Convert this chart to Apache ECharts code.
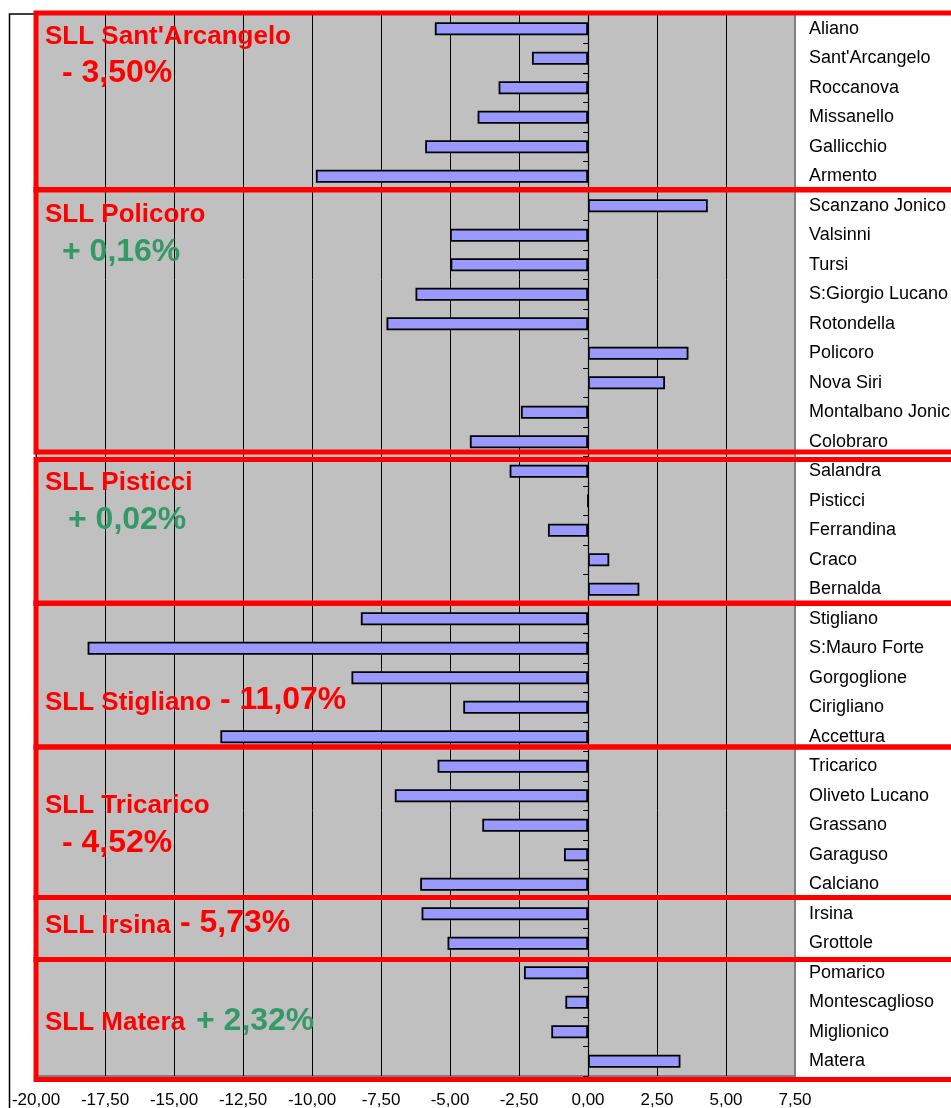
<!DOCTYPE html>
<html>
<head>
<meta charset="utf-8">
<title>Variazione popolazione per comune - SLL</title>
<script src="https://cdn.jsdelivr.net/npm/echarts@6/dist/echarts.min.js"></script>
<style>
  html, body { margin: 0; padding: 0; background: #ffffff; }
  #chart { width: 951px; height: 1108px; }
</style>
</head>
<body>
<div id="chart"></div>
<script>
// Comuni, from top to bottom, grouped by Sistema Locale del Lavoro
const comuni = [
  'Aliano', "Sant'Arcangelo", 'Roccanova', 'Missanello', 'Gallicchio', 'Armento',
  'Scanzano Jonico', 'Valsinni', 'Tursi', 'S:Giorgio Lucano', 'Rotondella', 'Policoro',
  'Nova Siri', 'Montalbano Jonico', 'Colobraro',
  'Salandra', 'Pisticci', 'Ferrandina', 'Craco', 'Bernalda',
  'Stigliano', 'S:Mauro Forte', 'Gorgoglione', 'Cirigliano', 'Accettura',
  'Tricarico', 'Oliveto Lucano', 'Grassano', 'Garaguso', 'Calciano',
  'Irsina', 'Grottole',
  'Pomarico', 'Montescaglioso', 'Miglionico', 'Matera'
];

// Variazione percentuale per comune
const variazione = [
  -5.55, -2.03, -3.24, -4.00, -5.90, -9.86,
  4.34, -5.00, -4.98, -6.25, -7.30, 3.64,
  2.79, -2.43, -4.28,
  -2.84, 0.00, -1.45, 0.77, 1.86,
  -8.23, -18.13, -8.57, -4.52, -13.32,
  -5.45, -7.00, -3.83, -0.87, -6.08,
  -6.03, -5.09,
  -2.32, -0.82, -1.33, 3.35
];

// Sistemi Locali del Lavoro: nome, variazione complessiva, numero di comuni
const sllNomi = ["SLL Sant'Arcangelo", 'SLL Policoro', 'SLL Pisticci', 'SLL Stigliano',
                 'SLL Tricarico', 'SLL Irsina', 'SLL Matera'];
const sllVariazione = ['- 3,50%', '+ 0,16%', '+ 0,02%', '- 11,07%', '- 4,52%', '- 5,73%', '+ 2,32%'];
const sllComuni = [6, 9, 5, 5, 5, 2, 4];

// Asse dei valori
const xMin = -20;
const xMax = 7.5;
const xStep = 2.5;

// Layout delle etichette SLL (pixel): [xNome, yNome, xVar, yVar]
const sllEtichette = [
  [45, 37, 62, 73],
  [45, 215, 62, 252],
  [45, 483, 68, 520],
  [45, 703, 220, 700],
  [45, 806, 62, 843],
  [45, 926, 180, 923],
  [45, 1023, 196, 1021]
];
// Piccole correzioni (pixel) dei bordi superiore/inferiore dei riquadri
const sllBordi = [
  [-1, -1], [-1.5, -4.5], [3, -0.5], [-1, -4.5], [-4.5, -1.5], [-1.5, 1.5], [1.5, 3.5]
];

const FONT = '"Liberation Sans", Arial, Helvetica, sans-serif';
const ROSSO = '#ff0000';
const VERDE = '#339966';

const chart = echarts.init(document.getElementById('chart'), null, { renderer: 'canvas' });

const option = {
  backgroundColor: '#ffffff',
  animation: false,
  textStyle: { fontFamily: FONT },
  grid: {
    left: 36, right: 156, top: 14, bottom: 32,
    containLabel: false,
    outerBoundsMode: 'none',
    show: true,
    backgroundColor: '#c0c0c0',
    borderColor: '#808080',
    borderWidth: 2
  },
  xAxis: {
    type: 'value',
    min: xMin,
    max: xMax,
    interval: xStep,
    axisLine: { show: false },
    axisTick: { show: false },
    splitLine: { show: true, showMaxLine: false, lineStyle: { color: '#000000', width: 1 } },
    axisLabel: {
      margin: 16,
      fontSize: 17,
      color: '#000000',
      fontFamily: FONT,
      formatter: v => v.toFixed(2).replace('.', ',')
    }
  },
  yAxis: [
    {
      type: 'category',
      data: comuni,
      inverse: true,
      axisLine: { show: true, onZero: true, lineStyle: { color: '#000000', width: 1.2 } },
      axisTick: { show: true, length: 5, lineStyle: { color: '#000000', width: 1 } },
      axisLabel: { show: false },
      splitLine: { show: false }
    },
    {
      type: 'category',
      data: comuni,
      inverse: true,
      position: 'right',
      axisLine: { show: false },
      axisTick: { show: false },
      splitLine: { show: false },
      axisLabel: {
        margin: 14,
        fontSize: 18,
        color: '#000000',
        fontFamily: FONT,
        align: 'left'
      }
    }
  ],
  series: [
    {
      type: 'bar',
      yAxisIndex: 0,
      data: variazione,
      barWidth: 13,
      itemStyle: { color: '#9999ff', borderColor: '#000000', borderWidth: 1.8 },
      z: 3
    }
  ]
};

chart.setOption(option);

// Riquadri rossi e etichette dei Sistemi Locali del Lavoro
function disegnaSLL() {
  const yA = chart.convertToPixel({ yAxisIndex: 0 }, comuni[0]);
  const yB = chart.convertToPixel({ yAxisIndex: 0 }, comuni[1]);
  const passo = yB - yA;
  const xSinistra = chart.convertToPixel({ xAxisIndex: 0 }, xMin);
  const elementi = [];

  let indice = 0;
  sllComuni.forEach((n, g) => {
    const primo = chart.convertToPixel({ yAxisIndex: 0 }, comuni[indice]);
    const ultimo = chart.convertToPixel({ yAxisIndex: 0 }, comuni[indice + n - 1]);
    const alto = primo - passo / 2 + sllBordi[g][0];
    const basso = ultimo + passo / 2 + sllBordi[g][1];
    indice += n;

    elementi.push({
      type: 'rect',
      shape: { x: xSinistra, y: alto, width: 1000, height: basso - alto },
      style: { fill: 'none', stroke: ROSSO, lineWidth: 5 },
      z: 50
    });

    const [xn, yn, xv, yv] = sllEtichette[g];
    elementi.push({
      type: 'text',
      x: xn, y: yn,
      style: {
        text: sllNomi[g],
        fill: ROSSO,
        font: 'bold 26px ' + FONT,
        textVerticalAlign: 'middle',
        verticalAlign: 'middle'
      },
      z: 60
    });
    const positivo = sllVariazione[g].trim().charAt(0) === '+';
    elementi.push({
      type: 'text',
      x: xv, y: yv,
      style: {
        text: sllVariazione[g],
        fill: positivo ? VERDE : ROSSO,
        font: 'bold 32px ' + FONT,
        textVerticalAlign: 'middle',
        verticalAlign: 'middle'
      },
      z: 60
    });
  });

  // Cornice esterna del grafico
  elementi.push({
    type: 'rect',
    shape: { x: 9.5, y: 14, width: 1200, height: 1300 },
    style: { fill: 'none', stroke: '#000000', lineWidth: 1.5 },
    z: 1
  });

  chart.setOption({ graphic: { elements: elementi } });
}

disegnaSLL();
</script>
</body>
</html>
